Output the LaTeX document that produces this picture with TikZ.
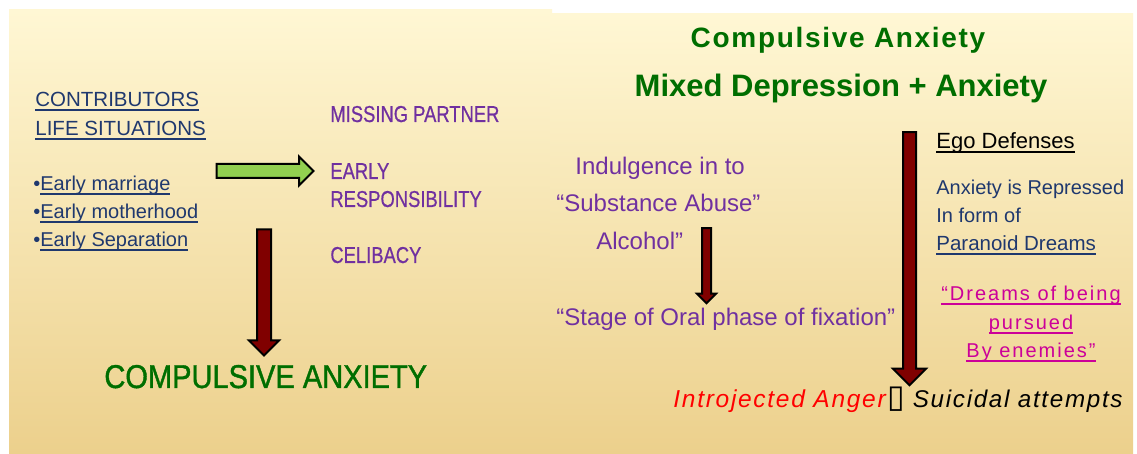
\documentclass[tikz,border=0pt]{standalone}
\usepackage{fontspec}
\setmainfont{Liberation Sans}
\newfontfamily\narrowfont[FakeStretch=0.8, FakeBold=0.6]{Liberation Sans}
\newfontfamily\titlefont[FakeStretch=0.88, FakeBold=1.2]{Liberation Sans}
\newfontfamily\widefont[LetterSpace=6]{Liberation Sans}
\newfontfamily\pinkfont[LetterSpace=10]{Liberation Sans}
\newfontfamily\angerfont[LetterSpace=7]{Liberation Sans}
\newfontfamily\boxfont{DejaVu Sans}
\usetikzlibrary{shapes.arrows}

\definecolor{slidetop}{RGB}{255,247,212}
\definecolor{slidemid}{RGB}{250,234,180}
\definecolor{slidebottom}{RGB}{236,208,140}
\definecolor{navytext}{RGB}{31,56,110}
\definecolor{purpletext}{RGB}{112,48,160}
\definecolor{greentext}{RGB}{0,110,0}
\definecolor{pinktext}{RGB}{204,0,153}
\definecolor{arrowgreen}{RGB}{146,208,80}
\definecolor{arrowred}{RGB}{128,0,0}

\newcommand\fsz[1]{\fontsize{#1pt}{#1pt}\selectfont}
% underline just under the baseline, crossing descenders
\newcommand\undl[1]{\setbox0=\hbox{#1}\rlap{\rule[-1.8pt]{\wd0}{0.8pt}}\box0}

\tikzset{
  txt/.style={inner sep=0pt, anchor=base west},
  ctxt/.style={inner sep=0pt, anchor=base},
  blockarrow/.style={single arrow, draw=black, line width=1pt,
    single arrow head indent=0pt, inner xsep=0pt, minimum width=0pt}
}

\begin{document}
\begin{tikzpicture}[x=0.5pt, y=-0.5pt]
  \useasboundingbox (0,0) rectangle (1137,454);
  \fill[white] (0,0) rectangle (1137,454);
  % the two slides
  \shade[top color=slidetop, middle color=slidemid, bottom color=slidebottom] (9,10) rectangle (552,454);
  \shade[top color=slidetop, middle color=slidemid, bottom color=slidebottom] (550,14) rectangle (1133,454);

  % left slide
  \node[txt, navytext] (contrib) at (35,107) {\fsz{10.25}\undl{CONTRIBUTORS}};
  \node[txt, navytext] (lifesit) at (35,136) {\fsz{10.25}\undl{LIFE SITUATIONS}};
  \node[txt, navytext] (marriage) at (33,191) {\fsz{10}•\undl{Early marriage}};
  \node[txt, navytext] (motherhood) at (33,219) {\fsz{10}•\undl{Early motherhood}};
  \node[txt, navytext] (separation) at (33,247) {\fsz{10}•\undl{Early Separation}};

  \node[blockarrow, fill=arrowgreen, minimum height=48.5pt, inner ysep=3pt,
        single arrow head extend=3.75pt] (greenarrow) at (261.5,171) {};

  \node[txt, purpletext] (missing) at (330,122) {\narrowfont\fsz{11.5}MISSING PARTNER};
  \node[txt, purpletext] (early) at (330,179) {\narrowfont\fsz{11.5}EARLY};
  \node[txt, purpletext] (respons) at (330,207) {\narrowfont\fsz{11.5}RESPONSIBILITY};
  \node[txt, purpletext] (celibacy) at (330,263) {\narrowfont\fsz{11.5}CELIBACY};

  \node[blockarrow, fill=arrowred, rotate=-90, minimum height=63pt, inner ysep=3pt,
        single arrow head extend=4pt] (leftarrow) at (264,289) {};

  \node[txt, greentext] (anxietyleft) at (104,388) {\titlefont\fsz{16.5}COMPULSIVE ANXIETY};

  % right slide
  \node[ctxt, greentext] (titleone) at (838,48) {\widefont\bfseries\fsz{14}Compulsive Anxiety};
  \node[ctxt, greentext] (titletwo) at (841,97) {\bfseries\fsz{15.5}Mixed Depression + Anxiety};

  \node[txt, purpletext] (indulge) at (575,175) {\fsz{12}Indulgence in to};
  \node[txt, purpletext] (substance) at (556,212) {\fsz{12}“Substance Abuse”};
  \node[txt, purpletext] (alcohol) at (596,250) {\fsz{12}Alcohol”};
  \node[blockarrow, fill=arrowred, rotate=-90, minimum height=37.5pt, inner ysep=1.75pt,
        single arrow head extend=2.5pt] (smallarrow) at (706.5,263.5) {};
  \node[txt, purpletext] (oralstage) at (556,326) {\fsz{12}“Stage of Oral phase of fixation”};

  \node[blockarrow, fill=arrowred, rotate=-90, minimum height=126.5pt, inner ysep=2.75pt,
        single arrow head extend=5pt] (bigarrow) at (909.5,255.5) {};

  \node[txt] (egodef) at (936,149) {\fsz{11}\undl{Ego Defenses}};
  \node[txt, navytext] (repressed) at (936,195) {\fsz{10}Anxiety is Repressed};
  \node[txt, navytext] (inform) at (936,223) {\fsz{10}In form of};
  \node[txt, navytext] (paranoid) at (936,251) {\fsz{10.25}\undl{Paranoid Dreams}};

  \node[ctxt, pinktext] (dreamsof) at (1031,301) {\pinkfont\fsz{10}\undl{“Dreams of being}};
  \node[ctxt, pinktext] (pursued) at (1031,330) {\pinkfont\fsz{10}\undl{pursued}};
  \node[ctxt, pinktext] (enemies) at (1031,358) {\pinkfont\fsz{10}\undl{By enemies”}};

  \begin{scope}
    \clip (550,14) rectangle (1133,454);
    \node[txt, red] (anger) at (673,408) {\angerfont\itshape\fsz{12.25}Introjected Anger};
    \node[txt] (boxglyph) at ([xshift=0.5pt]anger.base east) {\boxfont\fsz{16}▯};
    \node[txt] (suicidal) at ([xshift=3.5pt]boxglyph.base east) {\angerfont\itshape\fsz{12.1}Suicidal attempts};
  \end{scope}
\end{tikzpicture}
\end{document}
